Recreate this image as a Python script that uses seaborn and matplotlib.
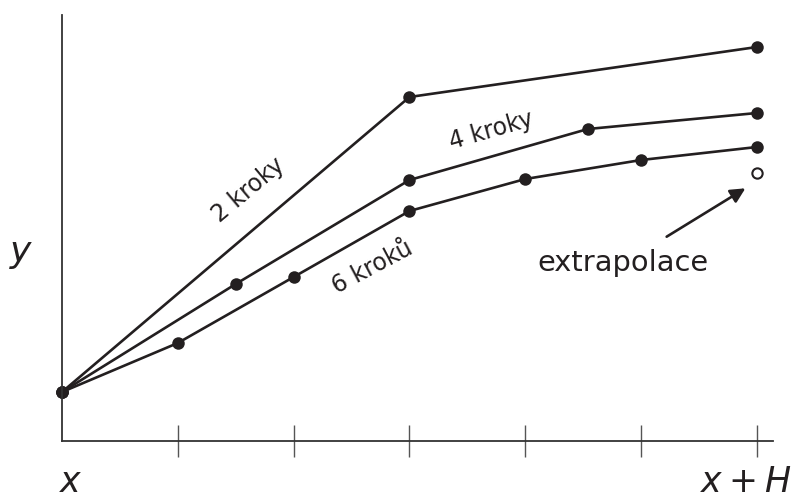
import numpy as np
import pandas as pd
import matplotlib
matplotlib.use("Agg")
import matplotlib.pyplot as plt
import seaborn as sns

# data (x in units of H/6)
x2 = [0, 3, 6]
y2 = [49, 344, 394]
x4 = [0, 1.5, 3, 4.54, 6]
y4 = [49, 157, 261, 312, 328]
x6 = [0, 1, 2, 3, 4, 5, 6]
y6 = [49, 98, 164, 230, 262, 281, 294]
x_extra = [6]
y_extra = [268]
tick_pos = [1, 2, 3, 4, 5, 6]

sns.set_theme(style="white")
plt.rcParams['font.family'] = ['DejaVu Sans']
plt.rcParams['mathtext.fontset'] = 'dejavusans'

ink = "#231f20"
fig = plt.figure(figsize=(7.96, 5.01), dpi=100)
ax = fig.add_axes([62/796, 60/501, (773-62)/796, (441-15)/501])

for xs, ys in [(x2, y2), (x4, y4), (x6, y6)]:
    sns.lineplot(x=xs, y=ys, ax=ax, color=ink, lw=1.9, marker="o",
                 markersize=9, markeredgewidth=0, sort=False)
for ln in ax.lines:
    ln.set_clip_on(False)

sns.scatterplot(x=x_extra, y=y_extra, ax=ax, s=55, facecolor="white",
                edgecolor=ink, linewidth=1.5, zorder=5)

ax.set_xlim(0, 6 + 16/115.83)
ax.set_ylim(0, 426)
ax.set_xticks(tick_pos)
ax.set_xticklabels([])
ax.set_yticks([])
ax.tick_params(axis="x", direction="inout", length=23, width=1.0,
               color="#555555", bottom=True)
for s in ["top", "right"]:
    ax.spines[s].set_visible(False)
for s in ["left", "bottom"]:
    ax.spines[s].set_color("#333333")
    ax.spines[s].set_linewidth(1.3)

# line labels
ax.text(1.606, 251, "2 kroky", rotation=40, ha="center", va="center",
        fontsize=17, color=ink)
ax.text(3.71, 310, "4 kroky", rotation=16, ha="center", va="center",
        fontsize=17, color=ink)
ax.text(2.68, 174, "6 kroků", rotation=28, ha="center", va="center",
        fontsize=17, color=ink)
ax.text(4.846, 178, "extrapolace", ha="center", va="center",
        fontsize=20.8, color=ink)
ax.annotate("", xy=(5.90, 252.7), xytext=(5.22, 204.3),
            arrowprops=dict(arrowstyle="-|>", color=ink, lw=1.9,
                            mutation_scale=22, shrinkA=0, shrinkB=0))

# axis labels
fig.text(71/796, 9/501, "$x$", ha="center", va="baseline", fontsize=25, color=ink)
fig.text(746/796, 9/501, "$x+H$", ha="center", va="baseline", fontsize=25, color=ink)
fig.text(21/796, 1 - 254/501, "$y$", ha="center", va="center", fontsize=26, color=ink)

fig.savefig("out.png", dpi=100)
